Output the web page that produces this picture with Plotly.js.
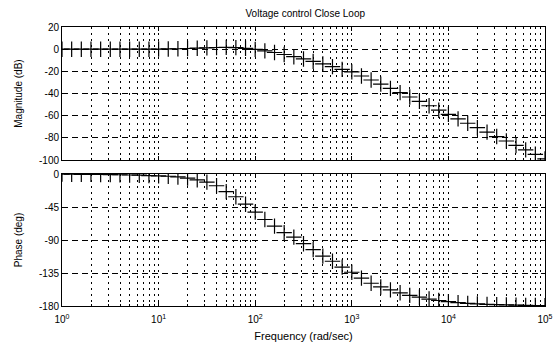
<!DOCTYPE html>
<html>
<head>
<meta charset="utf-8">
<script src="https://cdn.plot.ly/plotly-3.0.1.min.js"></script>
<style>html,body{margin:0;padding:0;background:#fff;}#chart{width:555px;height:345px;}</style>
</head>
<body>
<div id="chart"></div>
<script>
// Frequencies (rad/sec)
var freq = [1, 1.259, 1.585, 1.995, 2.512, 3.162, 3.981, 5.012, 6.310, 7.943,
  10, 12.59, 15.85, 19.95, 25.12, 31.62, 39.81, 50.12, 63.10, 79.43,
  100, 125.9, 158.5, 199.5, 251.2, 316.2, 398.1, 501.2, 631.0, 794.3,
  1000, 1259, 1585, 1995, 2512, 3162, 3981, 5012, 6310, 7943,
  10000, 12590, 15850, 19950, 25120, 31620, 39810, 50120, 63100, 79430, 100000];
// Magnitude (dB)
var magnitude = [0, 0, 0, 0, 0, 0, 0, 0, 0, 0,
  0.1, 0.2, 0.4, 0.6, 0.9, 1.2, 1.5, 1.6, 1.4, 0.8,
  -0.2, -1.5, -3, -4.8, -6.8, -8.8, -11, -13.3, -15.7, -18.2,
  -20.5, -24.2, -27.8, -31.5, -35.3, -39.2, -43.1, -47, -51, -55,
  -58.8, -62.8, -66.8, -70.8, -74.8, -78.8, -82.8, -86.8, -90.8, -94.8, -99];
// Phase (deg)
var phase = [0, -0.3, -0.4, -0.5, -0.6, -0.8, -1, -1.3, -1.6, -2.1,
  -2.5, -3, -4, -5.5, -8, -11, -16, -24, -31, -41,
  -52, -62, -71, -80, -86, -95, -103, -112, -119, -127,
  -134, -142, -149, -154, -158, -162, -165.5, -168, -170.5, -172.5,
  -174, -175.5, -176.5, -177.2, -177.8, -178.2, -178.6, -178.9, -179.1, -179.3, -179.5];

var xTickVals = [1, 10, 100, 1000, 10000, 100000];
var xTickText = ['10<sup>0</sup>', '10<sup>1</sup>', '10<sup>2</sup>', '10<sup>3</sup>', '10<sup>4</sup>', '10<sup>5</sup>'];
var magTickVals = [20, 0, -20, -40, -60, -80, -100];
var magTickText = ['20', '0', '-20', '-40', '-60', '-80', '-100'];
var phaseTickVals = [0, -45, -90, -135, -180];
var phaseTickText = ['0', '-45', '-90', '-135', '-180'];

var minorVals = [];
for (var d = 0; d < 5; d++) {
  for (var m = 2; m <= 9; m++) minorVals.push(m * Math.pow(10, d));
}

var fontFam = '"Liberation Sans", Arial, sans-serif';
var traceStyle = {
  mode: 'markers',
  marker: {symbol: 'cross-thin', size: 11, line: {color: '#000', width: 1.2}},
  showlegend: false,
  hoverinfo: 'skip'
};

var t1 = Object.assign({x: freq, y: magnitude, xaxis: 'x', yaxis: 'y'}, traceStyle);
var t2 = Object.assign({x: freq, y: phase, xaxis: 'x2', yaxis: 'y2'}, traceStyle);

function xAxis(showLabels, anchor, title) {
  var a = {
    type: 'log', range: [0, 5], anchor: anchor,
    tickmode: 'array', tickvals: xTickVals, ticktext: xTickText,
    showticklabels: showLabels, ticklabelstandoff: 4,
    ticks: 'inside', ticklen: 4, tickcolor: '#000',
    showline: true, linecolor: '#000', linewidth: 1, mirror: 'ticks',
    showgrid: true, gridcolor: '#000', gridwidth: 1, griddash: '2px,4px',
    zeroline: false,
    minor: {tickmode: 'array', tickvals: minorVals, ticks: 'inside', ticklen: 2, tickcolor: '#000',
            showgrid: true, gridcolor: '#000', gridwidth: 1, griddash: '2px,4px'},
    tickfont: {family: fontFam, size: 10, color: '#000'}
  };
  if (title) a.title = {text: title, font: {family: fontFam, size: 11, color: '#000'}, standoff: 8};
  return a;
}
function yAxis(domain, range, vals, text, anchor, title) {
  return {
    domain: domain, range: range, anchor: anchor,
    tickmode: 'array', tickvals: vals, ticktext: text,
    ticks: 'inside', ticklen: 4, tickcolor: '#000',
    showline: true, linecolor: '#000', linewidth: 1, mirror: 'ticks',
    showgrid: true, gridcolor: '#000', gridwidth: 1, griddash: '6px,4px',
    zeroline: false,
    tickfont: {family: fontFam, size: 10, color: '#000'},
    title: {text: title, font: {family: fontFam, size: 10, color: '#000'}, standoff: 14}
  };
}

var layout = {
  width: 555, height: 345,
  margin: {l: 62, r: 10, t: 27, b: 39},
  paper_bgcolor: '#fff', plot_bgcolor: '#fff',
  title: {text: 'Voltage control Close Loop', font: {family: fontFam, size: 10, color: '#000'},
          x: 0.55, xanchor: 'center', y: 0.962, yanchor: 'middle'},
  xaxis: xAxis(false, 'y', null),
  xaxis2: xAxis(true, 'y2', 'Frequency (rad/sec)'),
  yaxis: yAxis([0.523, 1], [-100, 20], magTickVals, magTickText, 'x', 'Magnitude (dB)'),
  yaxis2: yAxis([0, 0.473], [-180, 0], phaseTickVals, phaseTickText, 'x2', 'Phase (deg)')
};

Plotly.newPlot('chart', [t1, t2], layout, {displayModeBar: false, staticPlot: true});
</script>
</body>
</html>
